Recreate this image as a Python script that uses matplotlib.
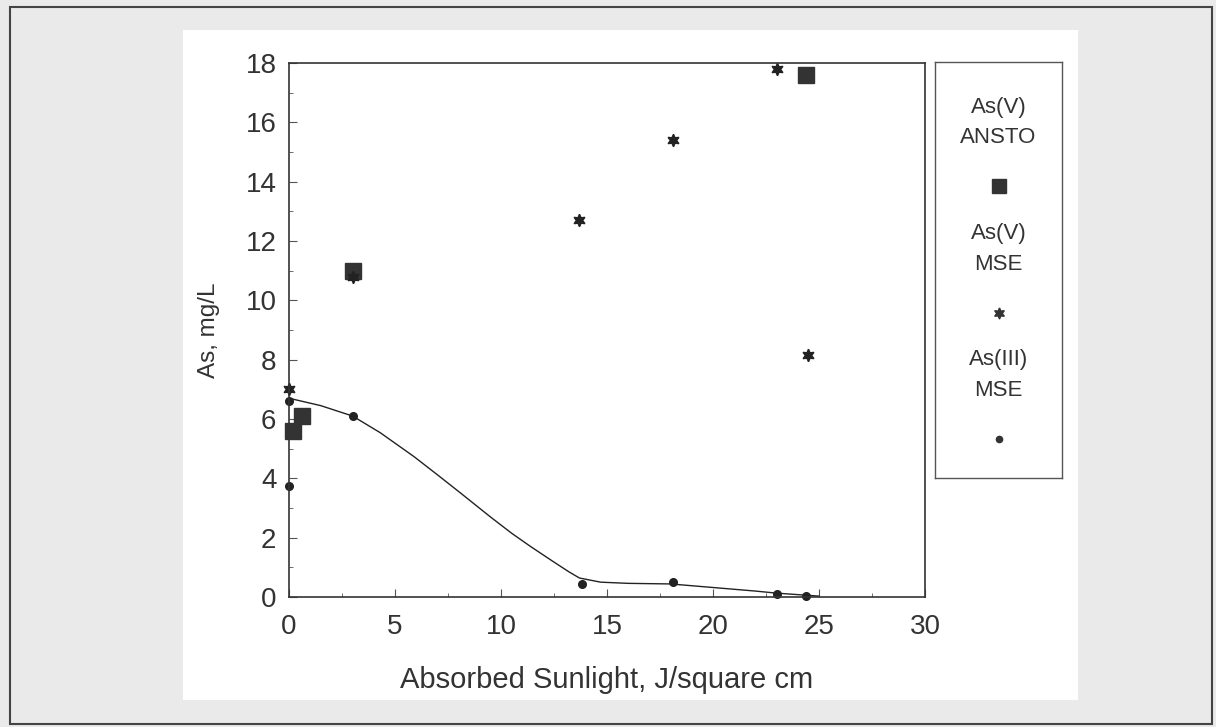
import numpy as np
import matplotlib.pyplot as plt
from matplotlib.patches import Rectangle

plt.rcParams['font.family'] = ['Liberation Sans', 'DejaVu Sans']

# As(V) ANSTO
ansto_x = [0.2, 0.6, 3.0, 24.4]
ansto_y = [5.6, 6.1, 11.0, 17.6]
# As(V) MSE
v_mse_x = [0.0, 3.0, 13.7, 18.1, 23.0, 24.5]
v_mse_y = [7.0, 10.8, 12.7, 15.4, 17.8, 8.15]
# As(III) MSE
iii_mse_x = [0.0, 0.0, 3.0, 13.8, 18.1, 23.0, 24.4]
iii_mse_y = [6.6, 3.75, 6.1, 0.45, 0.5, 0.1, 0.05]
# fitted curve for As(III)
fit_x = [0, 1.5, 3, 4.3, 5.9, 7, 8.1, 9.5, 10.5, 11.4, 12.45, 13.2, 13.7, 14.7, 16, 18, 20, 22, 23, 24, 25]
fit_y = [6.7, 6.45, 6.1, 5.54, 4.73, 4.12, 3.5, 2.7, 2.15, 1.7, 1.2, 0.85, 0.64, 0.5, 0.46, 0.44, 0.32, 0.2, 0.13, 0.08, 0.03]

legend_labels = ['As(V)\nANSTO', 'As(V)\nMSE', 'As(III)\nMSE']

fig = plt.figure(figsize=(12.16, 7.27), dpi=100, facecolor='#eaeaea')
# page background and frame
fig.patches.append(Rectangle((183 / 1216, 1 - 700 / 727), 895 / 1216, 670 / 727,
                             transform=fig.transFigure, facecolor='white', edgecolor='none', zorder=-10))
fig.patches.append(Rectangle((10 / 1216, 1 - 724 / 727), 1202 / 1216, 717 / 727,
                             transform=fig.transFigure, facecolor='none', edgecolor='#444444', lw=1.5, zorder=1))

ax = fig.add_axes([289 / 1216, 1 - 597 / 727, 636 / 1216, 534 / 727])
ax.set_facecolor('white')
ax.plot(fit_x, fit_y, color='#222222', lw=1.0)
ax.plot(ansto_x, ansto_y, 's', color='#333333', ms=11, clip_on=False)
ax.plot(v_mse_x, v_mse_y, marker=(6, 1, 0), ls='none', color='#222222', ms=9, clip_on=False)
ax.plot(iii_mse_x, iii_mse_y, 'o', color='#222222', ms=5.5, clip_on=False)

ax.set_xlim(0, 30)
ax.set_ylim(0, 18)
ax.set_xticks(np.arange(0, 31, 5))
ax.set_yticks(np.arange(0, 19, 2))
ax.set_xticks(np.arange(0, 30, 2.5), minor=True)
ax.set_yticks(np.arange(0, 18, 1), minor=True)
ax.tick_params(which='both', direction='in', labelsize=20, color='#555555', labelcolor='#333333')
ax.tick_params(which='major', length=6)
ax.tick_params(which='minor', length=3)
ax.tick_params(axis='x', pad=12)
ax.tick_params(axis='y', pad=9)
for s in ax.spines.values():
    s.set_color('#333333')
    s.set_linewidth(1.2)
ax.set_xlabel('Absorbed Sunlight, J/square cm', fontsize=21, labelpad=19, color='#333333')
ax.set_ylabel('As, mg/L', fontsize=17.5, labelpad=18, color='#333333')

# legend box: label above marker
lax = fig.add_axes([935 / 1216, 1 - 478 / 727, 127 / 1216, 416 / 727])
lax.set_xlim(0, 1)
lax.set_ylim(0, 1)
lax.set_xticks([])
lax.set_yticks([])
for s in lax.spines.values():
    s.set_color('#555555')
    s.set_linewidth(1.0)
markers = [dict(marker='s', ms=10), dict(marker=(6, 1, 0), ms=8), dict(marker='o', ms=4.5)]
label_y = [0.855, 0.55, 0.248]
marker_y = [0.702, 0.397, 0.094]
for lab, mk, ty, my in zip(legend_labels, markers, label_y, marker_y):
    lax.text(0.5, ty, lab, ha='center', va='center', fontsize=16, linespacing=1.6, color='#333333')
    lax.plot([0.5], [my], ls='none', color='#333333', **mk)

fig.savefig('out.png', dpi=100, facecolor=fig.get_facecolor())
